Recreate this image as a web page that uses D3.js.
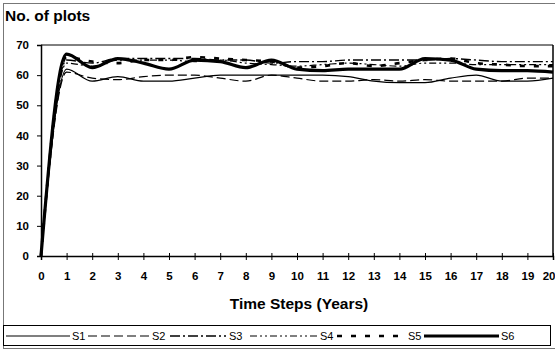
<!DOCTYPE html>
<html><head><meta charset="utf-8">
<script src="https://cdn.jsdelivr.net/npm/d3@7"></script>
<style>
body{margin:0;background:#fff;}
svg{font-family:"Liberation Sans",Arial,sans-serif;}
</style></head>
<body><svg id="c" width="555" height="352"></svg>
<script>
const years = d3.range(0, 21);
const yTicks = [0,10,20,30,40,50,60,70];
const seriesNames = ["S1","S2","S3","S4","S5","S6"];
const s1 = [0,62,58,59.5,58,58,59,60,60,60,60,60,59.5,58,57.5,57.5,59,60,58,58,59];
const s2 = [0,61,59,58.5,59.5,60,60,59,58,60,59,58,58,58.5,58,58.5,58,58,58,59,59];
const s3 = [0,65,64,65.5,65.5,65.5,65.5,65,65,64,64.5,64.5,65,65,65,65,65.5,65,64.5,64.5,64.5];
const s4 = [0,64,63,65,65,65,64.5,65,64,63.5,63,63.5,64,63.5,63,64,64,63.5,63.5,63.5,63.5];
const s5 = [0,66,64.5,64,65,65,66,65.5,65,64.5,62.5,63,64,63,64,65,65.5,64,63.5,63,63];
const s6 = [0,67,62.5,65.5,64,62,65,64.5,62.5,65,62,61.5,62,62,62,65.5,65,62,61.5,61.5,61];
const allSeries = [s1,s2,s3,s4,s5,s6];

const styles = [
  {w:1.2, dash:null},
  {w:1.2, dash:"9,4"},
  {w:1.4, dash:"10,3,2,3"},
  {w:1.2, dash:"7,3,2,3,2,3"},
  {w:2.6, dash:"5,9"},
  {w:3.2, dash:null}
];

const svg = d3.select("#c");
const L=41, R=553, T=45, B=256;
const x = d3.scaleLinear().domain([0,20]).range([L,R]);
const y = d3.scaleLinear().domain([0,70]).range([B,T]);

// outer border
svg.append("rect").attr("x",3.5).attr("y",3.5).attr("width",552).attr("height",345)
  .attr("fill","none").attr("stroke","#777").attr("stroke-width",1);

// plot frame top/right
svg.append("line").attr("x1",L).attr("x2",R).attr("y1",T).attr("y2",T).attr("stroke","#000").attr("stroke-width",1);
svg.append("line").attr("x1",R).attr("x2",R).attr("y1",T).attr("y2",B).attr("stroke","#000").attr("stroke-width",1.5);

// title
svg.append("text").attr("x",5).attr("y",21).attr("font-size",15.5).attr("font-weight","bold").text("No. of plots");

// y axis
const ya = svg.append("g").attr("transform",`translate(${L},0)`)
  .call(d3.axisLeft(y).tickValues(yTicks).tickSize(4).tickPadding(8));
ya.select(".domain").attr("stroke","#000").attr("stroke-width",1.5);
ya.selectAll(".tick text").attr("font-size",11.5).attr("font-weight","bold").attr("font-family","Liberation Sans, Arial, sans-serif").attr("fill","#000");

// x axis
const xa = svg.append("g").attr("transform",`translate(0,${B})`)
  .call(d3.axisBottom(x).tickValues(years).tickSize(4).tickPadding(12).tickFormat(d3.format("d")));
xa.select(".domain").attr("stroke","#000").attr("stroke-width",1.5);
xa.selectAll(".tick line").attr("y1",-3);
xa.selectAll(".tick text").attr("font-size",11.5).attr("font-weight","bold").attr("font-family","Liberation Sans, Arial, sans-serif").attr("fill","#000");
xa.selectAll(".tick text").filter(d=>d===20).attr("text-anchor","end").attr("x",2);

// x title
svg.append("text").attr("x",299).attr("y",309).attr("text-anchor","middle")
  .attr("font-size",15.5).attr("font-weight","bold").text("Time Steps (Years)");

// lines
const line = d3.line().x((d,i)=>x(years[i])).y(d=>y(d)).curve(d3.curveMonotoneX);
allSeries.forEach((s,k)=>{
  svg.append("path").attr("d",line(s)).attr("fill","none").attr("stroke","#000")
    .attr("stroke-width",styles[k].w).attr("stroke-dasharray",styles[k].dash)
    .attr("stroke-linejoin","round");
});

// legend
svg.append("rect").attr("x",3.5).attr("y",325.5).attr("width",547).attr("height",20)
  .attr("fill","#fff").attr("stroke","#000").attr("stroke-width",1);
const legX = [[6,70,72],[88,149,152],[170,226,229],[250,317,320],[337,405,408],[424,499,501]];
seriesNames.forEach((n,k)=>{
  const [a,b,t] = legX[k];
  svg.append("line").attr("x1",a).attr("x2",b).attr("y1",336).attr("y2",336)
    .attr("stroke","#000").attr("stroke-width",styles[k].w).attr("stroke-dasharray",styles[k].dash);
  svg.append("text").attr("x",t).attr("y",340).attr("font-size",11).text(n);
});
</script></body></html>
